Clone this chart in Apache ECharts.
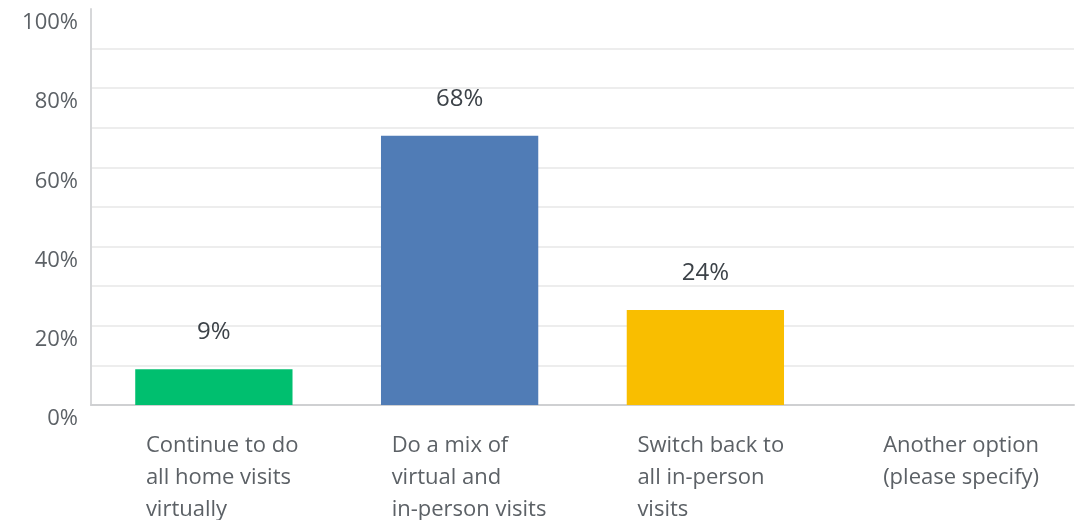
<!DOCTYPE html>
<html>
<head>
<meta charset="utf-8">
<script src="https://cdn.jsdelivr.net/npm/echarts@6/dist/echarts.min.js"></script>
<style>
  html, body { margin: 0; padding: 0; background: #fff; }
  #chart { width: 1084px; height: 520px; }
</style>
</head>
<body>
<div id="chart"></div>
<script>
// Answer choices (line breaks as they wrap under the axis)
const categories = [
  'Continue to do\nall home visits\nvirtually',
  'Do a mix of\nvirtual and\nin-person visits',
  'Switch back to\nall in-person\nvisits',
  'Another option\n(please specify)'
];
// Share of respondents, percent
const values = [9, 68, 24, 0];
const barColors = ['#00bf6f', '#507cb6', '#f9be00', '#a7a9ac'];

const font = '"Open Sans", "Liberation Sans", sans-serif';
const textGrey = '#5c6166';

const chart = echarts.init(document.getElementById('chart'), null, { renderer: 'canvas' });
chart.setOption({
  animation: false,
  grid: { left: 91, right: 10, top: 9, bottom: 115, containLabel: false, outerBoundsMode: 'none' },
  xAxis: {
    type: 'category',
    data: categories,
    axisLine: { show: true, lineStyle: { color: '#cfd0d2', width: 2 } },
    axisTick: { show: false },
    axisLabel: {
      interval: 0,
      margin: 25,
      color: textGrey,
      fontFamily: font,
      fontSize: 22,
      lineHeight: 32,
      formatter: v => v.split('\n').map(l => '{a|' + l + '}').join('\n'),
      rich: {
        a: { width: 136, align: 'left', fontFamily: font, fontSize: 22, lineHeight: 32, color: textGrey }
      }
    }
  },
  yAxis: {
    type: 'value',
    min: 0,
    max: 100,
    interval: 10,
    axisLine: { show: true, lineStyle: { color: '#d6d7d9', width: 2 } },
    axisTick: { show: false },
    splitLine: {
      show: true,
      lineStyle: { color: '#ededed', width: 2 },
      showMaxLine: false
    },
    axisLabel: {
      margin: 13,
      padding: [3, 0, 0, 0],
      color: textGrey,
      fontFamily: font,
      fontSize: 22,
      verticalAlign: 'top',
      showMaxLabel: true,
      formatter: v => (v % 20 === 0 ? v + '%' : '')
    }
  },
  series: [{
    type: 'bar',
    data: values.map((v, i) => ({ value: v, itemStyle: { color: barColors[i] } })),
    barWidth: '64%',
    label: {
      show: true,
      position: 'top',
      distance: 25,
      color: '#3c4248',
      fontFamily: font,
      fontSize: 24,
      formatter: p => (p.value > 0 ? p.value + '%' : '')
    }
  }]
});
</script>
</body>
</html>
